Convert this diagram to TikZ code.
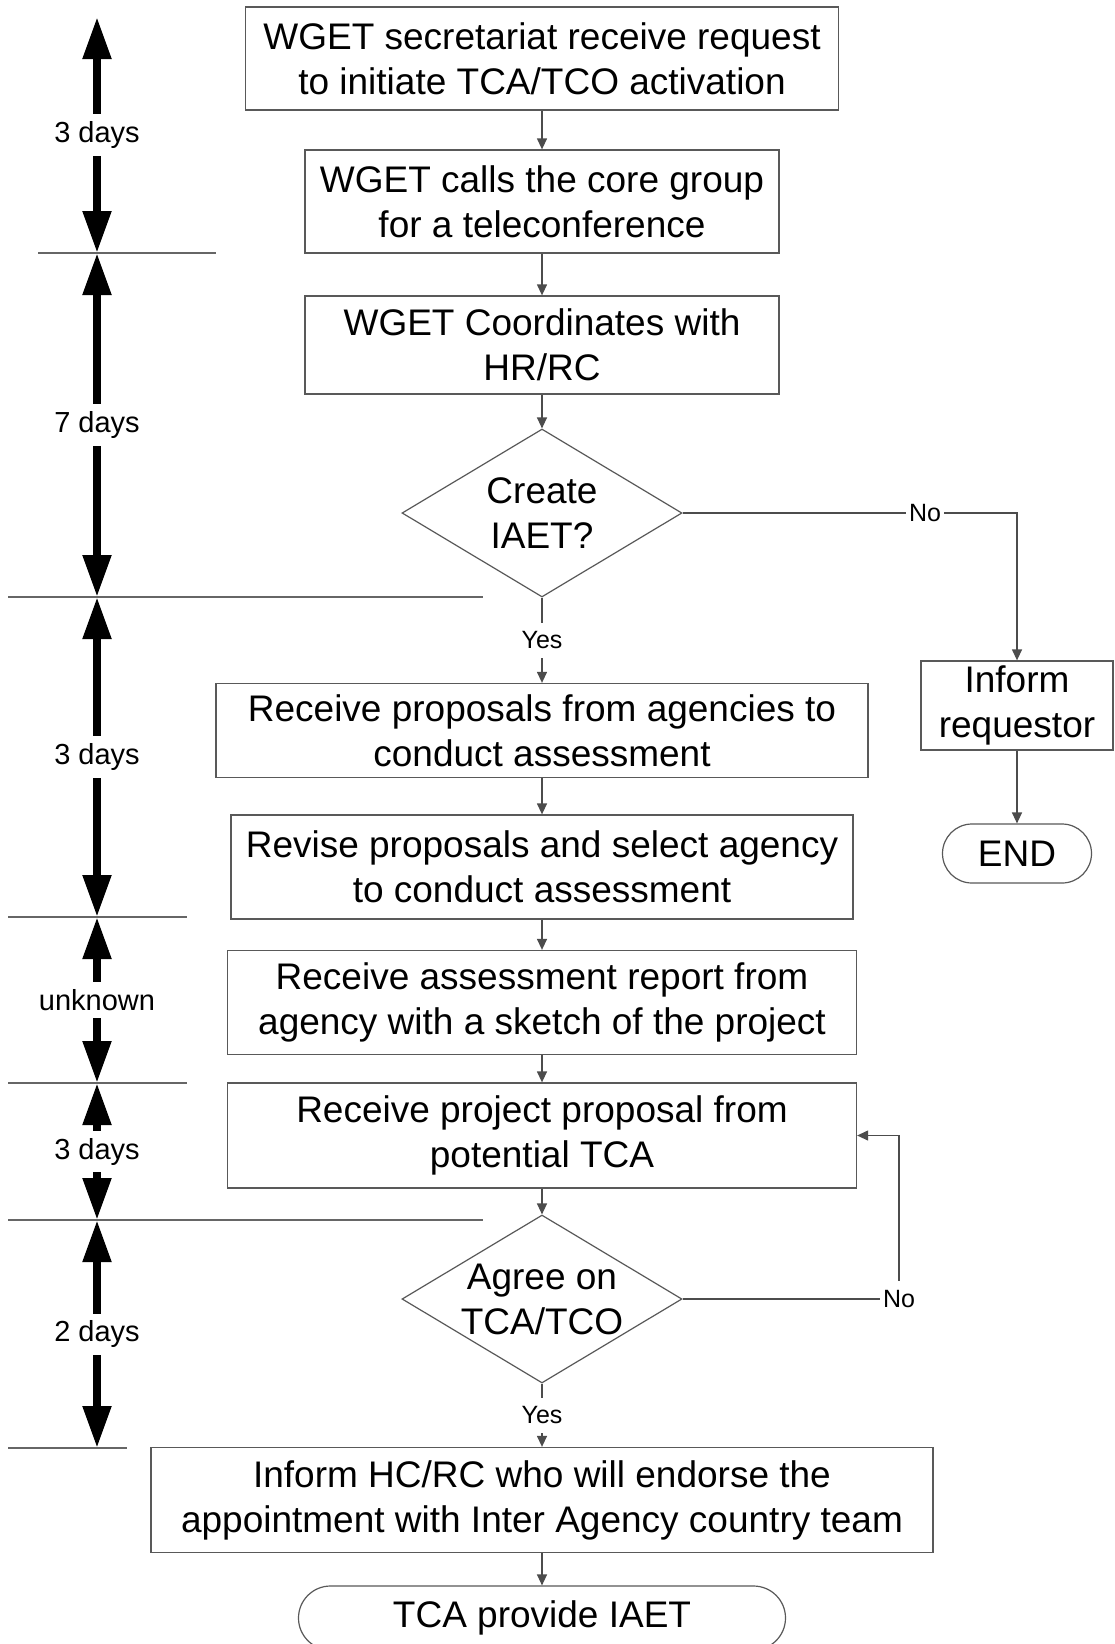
\documentclass[tikz,border=0pt]{standalone}
\usepackage{fontspec}
\setmainfont{Liberation Sans}
\usetikzlibrary{arrows.meta,shapes.geometric,shapes.misc}
\begin{document}
\begin{tikzpicture}[x=1pt,y=-1pt,
  every node/.style={font=\fontsize{37}{45}\selectfont, align=center},
  stepbox/.style={draw=black!65, line width=1.3pt, rectangle, inner sep=0pt},
  decision/.style={draw=black!65, line width=1.2pt, diamond, inner sep=0pt, minimum width=280pt, minimum height=168pt},
  dtext/.style={inner sep=0pt},
  term/.style={draw=black!65, line width=1.2pt, rounded rectangle, inner sep=0pt},
  conn/.style={draw=black!70, line width=1.3pt, -{Triangle[length=11pt,width=10pt]}},
  lbl/.style={font=\fontsize{25}{28}\selectfont, fill=white, inner xsep=3pt, inner ysep=9pt},
  sepline/.style={draw=black!60, line width=1.3pt},
  span/.style={draw=black, line width=8pt, {Triangle[length=42pt,width=27pt]}-{Triangle[length=42pt,width=27pt]}},
  dur/.style={font=\fontsize{29}{33}\selectfont, fill=white, inner xsep=4pt, inner ysep=7pt},
]
\useasboundingbox[fill=white] (0,0) rectangle (1114,1644);

% flow nodes
\node[stepbox, minimum width=593pt, minimum height=103pt] (b1) at (542,58.5) {WGET secretariat receive request\\to initiate TCA/TCO activation};
\node[stepbox, minimum width=474pt, minimum height=103pt] (b2) at (542,201.5) {WGET calls the core group\\for a teleconference};
\node[stepbox, minimum width=474pt, minimum height=98pt] (b3) at (542,345) {WGET Coordinates with\\HR/RC};
\node[decision] (d1) at (542,513) {};
\node[dtext] (d1t) at (d1) {Create\\IAET?};
\node[stepbox, minimum width=192pt, minimum height=89pt] (inf) at (1017,705.5) {Inform\\requestor};
\node[term, minimum width=149pt, minimum height=59pt] (endn) at (1017,853.5) {END};
\node[stepbox, minimum width=652pt, minimum height=94pt] (b4) at (542,730.5) {Receive proposals from agencies to\\conduct assessment};
\node[stepbox, minimum width=622pt, minimum height=104pt] (b5) at (542,867) {Revise proposals and select agency\\to conduct assessment};
\node[stepbox, minimum width=629pt, minimum height=104pt] (b6) at (542,1002.5) {Receive assessment report from\\agency with a sketch of the project};
\node[stepbox, minimum width=629pt, minimum height=105pt] (b7) at (542,1135.5) {Receive project proposal from\\potential TCA};
\node[decision] (d2) at (542,1299) {};
\node[dtext] (d2t) at (d2) {Agree on\\TCA/TCO};
\node[stepbox, minimum width=782pt, minimum height=105pt] (b8) at (542,1500) {Inform HC/RC who will endorse the\\appointment with Inter Agency country team};
\node[term, minimum width=487pt, minimum height=64pt] (tca) at (542,1618) {TCA provide IAET};

% connectors
\draw[conn] (b1.south) -- (b2.north);
\draw[conn] (b2.south) -- (b3.north);
\draw[conn] (b3.south) -- (d1.north);
\draw[conn] (d1.south) -- (b4.north) node[lbl, midway] (yes1) {Yes};
\draw[conn] (d1.east) -| (inf.north);
\node[lbl] (no1) at (925,513) {No};
\draw[conn] (inf.south) -- (endn.north);
\draw[conn] (b4.south) -- (b5.north);
\draw[conn] (b5.south) -- (b6.north);
\draw[conn] (b6.south) -- (b7.north);
\draw[conn] (b7.south) -- (d2.north);
\coordinate (nc) at (899,1299);
\draw[conn] (d2.east) -- (nc) |- (b7.east);
\node[lbl] (no2) at (nc) {No};
\draw[conn] (d2.south) -- (b8.north) node[lbl, midway] (yes2) {Yes};
\draw[conn] (b8.south) -- (tca.north);

% timeline separators
\coordinate (s1a) at (38,253);  \coordinate (s1b) at (216,253);
\coordinate (s2a) at (8,597);   \coordinate (s2b) at (483,597);
\coordinate (s3a) at (8,917);   \coordinate (s3b) at (187,917);
\coordinate (s4a) at (8,1083);  \coordinate (s4b) at (187,1083);
\coordinate (s5a) at (8,1220);  \coordinate (s5b) at (483,1220);
\coordinate (s6a) at (8,1448);  \coordinate (s6b) at (127,1448);
\draw[sepline] (s1a) -- (s1b);
\draw[sepline] (s2a) -- (s2b);
\draw[sepline] (s3a) -- (s3b);
\draw[sepline] (s4a) -- (s4b);
\draw[sepline] (s5a) -- (s5b);
\draw[sepline] (s6a) -- (s6b);

% timeline spans
\coordinate (t0) at (97,17);
\coordinate (t1) at (97,253);
\coordinate (t2) at (97,597);
\coordinate (t3) at (97,917);
\coordinate (t4) at (97,1083);
\coordinate (t5) at (97,1220);
\coordinate (t6) at (97,1448);
\draw[span] (t0) -- (t1) node[dur, midway] (l1) {3 days};
\draw[span] (t1) -- (t2) node[dur, midway] (l2) {7 days};
\draw[span] (t2) -- (t3) node[dur, midway] (l3) {3 days};
\draw[span] (t3) -- (t4) node[dur, midway] (l4) {unknown};
\draw[span] (t4) -- (t5) node[dur, midway] (l5) {3 days};
\draw[span] (t5) -- (t6) node[dur, midway] (l6) {2 days};
\end{tikzpicture}
\end{document}
